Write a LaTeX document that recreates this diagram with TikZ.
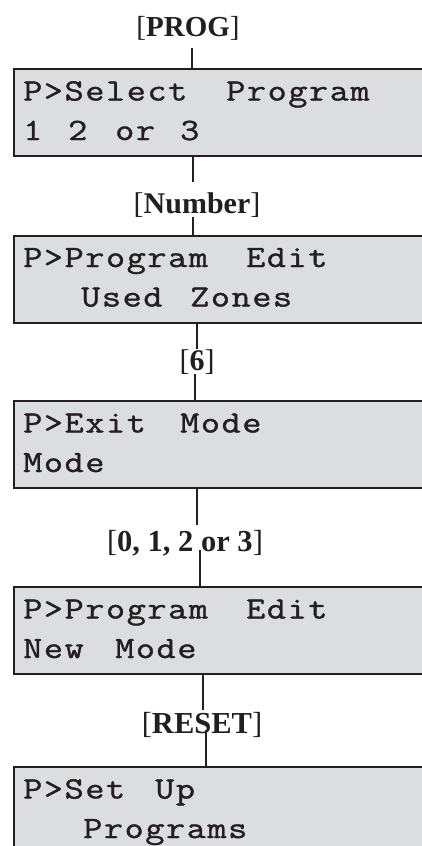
\documentclass[tikz,border=0pt]{standalone}
\usepackage{fontspec}
\setmainfont{Liberation Serif}
\newfontfamily\lcdfont[FakeStretch=1.2,LetterSpace=5,FakeBold=1.2]{Latin Modern Mono}
\definecolor{lcdfill}{RGB}{220,221,223}
\definecolor{ink}{RGB}{35,31,32}
\newcommand\lw[2]{\makebox[#1pt][l]{#2}}
\tikzset{
  lcdbox/.style={draw=ink, fill=lcdfill, line width=2pt, outer sep=0pt, inner sep=0pt,
    rectangle, minimum width=420pt, minimum height=87pt, anchor=north west},
  lcdtext/.style={font=\lcdfont\fontsize{31}{31}\selectfont, text=ink, inner sep=0pt, anchor=base west},
  keylab/.style={font=\fontsize{#1}{#1}\selectfont, text=ink, inner sep=0pt, anchor=base},
  keylab/.default=30
}
\tikzset{conn/.style={draw=ink, line width=2pt}}
\begin{document}
\begin{tikzpicture}[x=1pt,y=-1pt]
\clip (0,0) rectangle (422,846);
\fill[white] (0,0) rectangle (422,846);
% boxes
\node[lcdbox] (b1) at (13.5,69) {};
\node[lcdbox] (b2) at (13.5,235.5) {};
\node[lcdbox] (b3) at (13.5,401) {};
\node[lcdbox] (b4) at (13.5,587) {};
\node[lcdbox] (b5) at (13.5,767) {};
% box texts
\node[lcdtext] (t1a) at ([xshift=9.5pt,yshift=-31.5pt]b1.north west) {\lw{203}{P>Select}Program};
\node[lcdtext] (t1b) at ([xshift=9.5pt,yshift=-71pt]b1.north west) {\lw{45}{1}\lw{47}{2}\lw{65}{or}3};
\node[lcdtext] (t2a) at ([xshift=9.5pt,yshift=-31.5pt]b2.north west) {\lw{223}{P>Program}Edit};
\node[lcdtext] (t2b) at ([xshift=9.5pt,yshift=-71pt]b2.north west) {\hspace*{58pt}\lw{109}{Used}Zones};
\node[lcdtext] (t3a) at ([xshift=9.5pt,yshift=-31.5pt]b3.north west) {\lw{157}{P>Exit}Mode};
\node[lcdtext] (t3b) at ([xshift=9.5pt,yshift=-71pt]b3.north west) {Mode};
\node[lcdtext] (t4a) at ([xshift=9.5pt,yshift=-31.5pt]b4.north west) {\lw{223}{P>Program}Edit};
\node[lcdtext] (t4b) at ([xshift=9.5pt,yshift=-71pt]b4.north west) {\lw{92}{New}Mode};
\node[lcdtext] (t5a) at ([xshift=9.5pt,yshift=-31.5pt]b5.north west) {\lw{132}{P>Set}Up};
\node[lcdtext] (t5b) at ([xshift=9.5pt,yshift=-71pt]b5.north west) {\hspace*{60pt}Programs};
% key labels
\node[keylab=29] (k1) at (188,36) {[\textbf{PROG}]};
\node[keylab=30] (k2) at (197,213) {[\textbf{Number}]};
\node[keylab=30] (k3) at (197,370) {[\textbf{6}]};
\node[keylab=30.5] (k4) at (185,551) {[\textbf{0, 1, 2 or 3}]};
\node[keylab=30.5] (k5) at (202,733) {[\textbf{RESET}]};
% x positions of connectors
\coordinate (x1) at (192,0);
\coordinate (x2) at (193,0);
\coordinate (x3) at (193,0);
\coordinate (x4) at (197,0);
\coordinate (x5) at (195,0);
\coordinate (x6) at (197,0);
\coordinate (x7) at (200,0);
\coordinate (x8) at (203,0);
\coordinate (x9) at (206,0);
% connectors
\draw[conn, shorten <=8pt] (x1 |- k1.south) -- (x1 |- b1.north);
\draw[conn, shorten >=10pt] (x2 |- b1.south) -- (x2 |- k2.north);
\draw[conn] (x3 |- k2.south) -- (x3 |- b2.north);
\draw[conn] (x4 |- b2.south) -- (x4 |- k3.north);
\draw[conn] (x5 |- k3.south) -- (x5 |- b3.north);
\draw[conn, shorten >=5pt] (x6 |- b3.south) -- (x6 |- k4.north);
\draw[conn, shorten <=-6pt] (x7 |- k4.south) -- (x7 |- b4.north);
\draw[conn, shorten >=2pt] (x8 |- b4.south) -- (x8 |- k5.north);
\draw[conn, shorten <=-7pt] (x9 |- k5.south) -- (x9 |- b5.north);
\end{tikzpicture}
\end{document}
